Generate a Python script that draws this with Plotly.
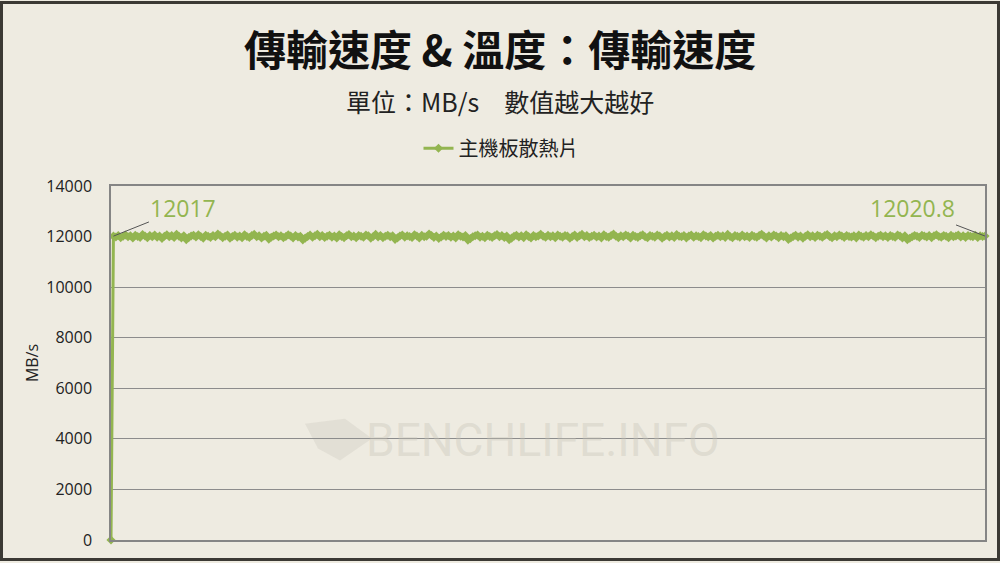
import plotly.graph_objects as go

# ---- data ----
series_name = "主機板散熱片"
speed_values = [
    0,
    12017, 11985, 12040, 11960, 12010, 12065, 11990, 12030, 11945, 12055, 12005, 11970, 12080, 12020, 11955, 12045, 11990, 12060, 11975, 12025,
    11930, 12010, 12070, 11995, 12040, 11965, 12090, 12015, 11950, 12035, 11880, 11960, 12020, 12055, 11985, 12075, 12000, 11940, 12050, 12010,
    11970, 12045, 11990, 12100, 12030, 11960, 12015, 12060, 11935, 12005, 12050, 11980, 12025, 11955, 12070, 12000, 11965, 12040, 12085, 11995,
    12030, 11945, 12010, 12055, 11900, 11975, 12020, 12065, 11990, 12035, 11960, 12000, 12075, 12025, 11950, 12045, 11985, 12015, 11870, 11940,
    12005, 12060, 11975, 12030, 12090, 11995, 12040, 11965, 12010, 12050, 11980, 12025, 11945, 12070, 12000, 11960, 12035, 12080, 11990, 12020,
    11955, 12045, 12010, 11975, 12060, 12030, 11940, 12005, 12085, 11985, 12040, 11960, 12015, 12055, 11995, 12030, 11890, 11950, 12020, 12065,
    11980, 12035, 12000, 11965, 12075, 12025, 11945, 12050, 11990, 12010, 12100, 12040, 11970, 12020, 11930, 11985, 12055, 12005, 12045, 11975,
    12025, 11950, 12070, 12010, 11985, 12040, 11860, 11920, 11995, 12030, 12065, 11980, 12015, 11955, 12050, 12000, 11970, 12035, 12080, 11990,
    12045, 11965, 12020, 11880, 11940, 12010, 12055, 11985, 12030, 11960, 12075, 12005, 11945, 12040, 11995, 12025, 12090, 12015, 11975, 12050,
    11990, 12035, 11955, 12065, 12010, 11980, 12045, 12020, 11935, 12000, 12060, 11970, 12030, 12085, 11995, 12040, 11965, 12015, 12055, 11985,
    12025, 11950, 12070, 12005, 11975, 12040, 12095, 12010, 11960, 12035, 11990, 12060, 12020, 11945, 12050, 12000, 11970, 12030, 12075, 11995,
    11955, 12040, 12010, 11980, 12065, 12025, 11940, 12005, 12050, 11985, 12030, 11965, 12080, 12015, 11990, 12045, 11950, 12020, 12060, 11975,
    12035, 12000, 11960, 12070, 12020, 11985, 12040, 11945, 12010, 12055, 11995, 12030, 11970, 12085, 12005, 11955, 12045, 12015, 11980, 12060,
    11990, 12025, 11965, 12050, 12000, 11975, 12040, 12090, 12010, 11950, 12035, 11985, 12065, 12020, 11960, 12045, 11995, 12030, 11890, 11945,
    12005, 12055, 11980, 12025, 11940, 12010, 12070, 11995, 12035, 11965, 12050, 12015, 11975, 12040, 12080, 12000, 11955, 12030, 11990, 12060,
    12020, 11970, 12045, 12005, 11985, 12035, 11950, 12065, 12010, 11980, 12040, 11995, 12075, 12025, 11960, 12015, 12050, 11990, 12030, 11965,
    12045, 12000, 11975, 12060, 12020, 11945, 12035, 11880, 11935, 11990, 12040, 12010, 11970, 12055, 12025, 11985, 12045, 11960, 12030, 12070,
    12005, 11980, 12040, 12015, 11955, 12050, 11995, 12025, 12065, 11985, 12035, 11970, 12045, 12010, 11990, 12055, 11965, 12030, 12000, 12020.8,
]
sample_index = list(range(len(speed_values)))
y_ticks = [0, 2000, 4000, 6000, 8000, 10000, 12000, 14000]
y_tick_labels = ["0", "2000", "4000", "6000", "8000", "10000", "12000", "14000"]
first_label = "12017"
last_label = "12020.8"

# ---- layout geometry ----
W, H = 1000, 563
L, R, T, B = 111, 985, 186, 542
pw, ph = R - L, B - T


def px(x):
    return (x - L) / pw


def py(y):
    return (B - y) / ph


GREEN = "#93B550"
BG = "#EEEBE1"
CJK = "Noto Sans CJK TC"

fig = go.Figure()
fig.add_trace(go.Scatter(
    x=sample_index, y=speed_values, name=series_name,
    mode="lines+markers",
    line=dict(color=GREEN, width=3),
    marker=dict(symbol="diamond", size=7, color=GREEN),
    cliponaxis=False,
))

fig.update_layout(
    width=W, height=H,
    paper_bgcolor=BG, plot_bgcolor=BG,
    margin=dict(l=L, r=W - R, t=T, b=H - B, pad=0),
    showlegend=True,
    legend=dict(orientation="h", x=px(501), xanchor="center", y=py(148), yanchor="middle",
                itemwidth=30,
                font=dict(family=CJK, size=20, color="#222222"), bgcolor="rgba(0,0,0,0)"),
    xaxis=dict(range=[0, len(speed_values) - 1], showgrid=False, zeroline=False,
               showticklabels=False, ticks="", showline=True, mirror=True,
               linecolor="#858585", linewidth=1.5),
    yaxis=dict(range=[0, 14000], tickvals=y_ticks, ticktext=y_tick_labels,
               showgrid=True, gridcolor="#8C8C8C",
               gridwidth=1, zeroline=False, showline=True, mirror=True,
               linecolor="#858585", linewidth=1.5, ticks="", ticklabelstandoff=14,
               tickfont=dict(family="Open Sans", size=16, color="#222222"),
               title=dict(text="MB/s", font=dict(family="Open Sans", size=16, color="#222222"),
                          standoff=4)),
    font=dict(family=CJK),
)

annotations = [
    dict(text="<b>傳輸速度 &amp; 溫度：傳輸速度</b>", x=0.5 * (px(0) + px(W)), y=py(47),
         xref="paper", yref="paper", showarrow=False,
         font=dict(family=CJK, size=42, color="#111111"), xanchor="center", yanchor="middle"),
    dict(text="單位：MB/s　數值越大越好", x=0.5 * (px(0) + px(W)), y=py(101),
         xref="paper", yref="paper", showarrow=False,
         font=dict(family=CJK, size=25, color="#222222"), xanchor="center", yanchor="middle"),
    dict(text="BENCHLIFE.INFO", x=px(543), y=py(441), xref="paper", yref="paper",
         showarrow=False, font=dict(family="Liberation Sans Narrow, Roboto", size=46,
                                    color="rgba(200,196,184,0.4)"),
         xanchor="center", yanchor="middle"),
    dict(text=first_label, x=sample_index[1], y=speed_values[1], xref="x", yref="y",
         showarrow=True, arrowhead=0, arrowwidth=1, arrowcolor="#555555",
         ax=70, ay=-28, font=dict(family="Open Sans", size=23, color=GREEN)),
    dict(text=last_label, x=sample_index[-1], y=speed_values[-1], xref="x", yref="y",
         showarrow=True, arrowhead=0, arrowwidth=1, arrowcolor="#555555",
         ax=-73, ay=-28, font=dict(family="Open Sans", size=23, color=GREEN)),
]
fig.update_layout(annotations=annotations)

# faint watermark logo
fig.add_shape(type="path", xref="paper", yref="paper",
              path=f"M {px(305)},{py(425)} L {px(345)},{py(420)} L {px(372)},{py(440)} "
                   f"L {px(340)},{py(462)} L {px(318)},{py(450)} Z",
              line=dict(width=0), fillcolor="rgba(200,196,184,0.3)", layer="below")

# outer dark frame
fig.add_shape(type="rect", xref="paper", yref="paper",
              x0=px(1.5), x1=px(W - 1.5), y0=py(1.5), y1=py(H - 1.5),
              line=dict(color="#3B3934", width=3), fillcolor="rgba(0,0,0,0)", layer="above")

fig.write_html("out.html", config={"displayModeBar": False},
               post_script="document.body.style.margin='0';document.body.style.padding='0';")
